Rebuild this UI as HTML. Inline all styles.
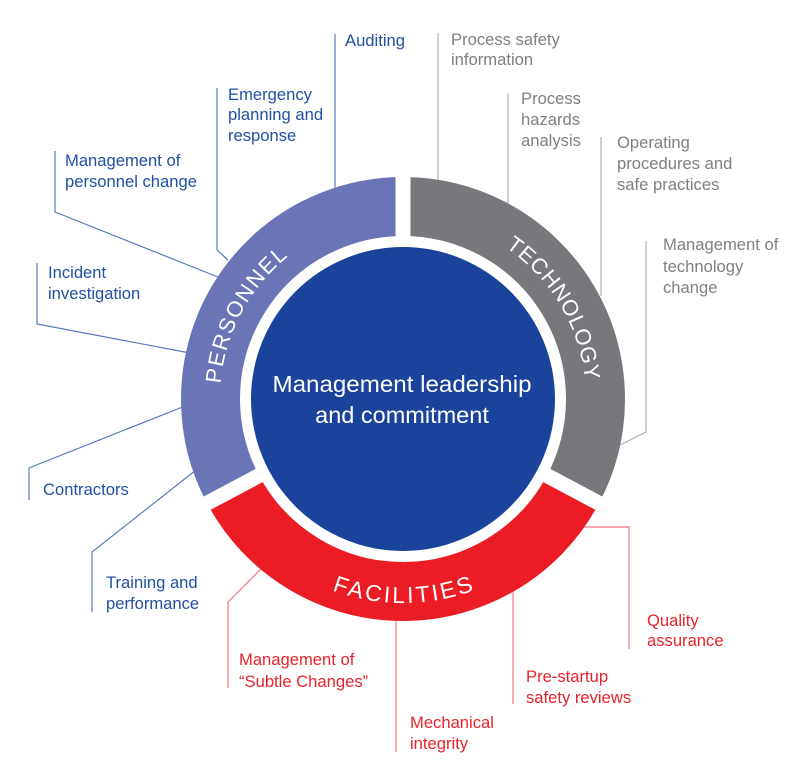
<!DOCTYPE html>
<html><head><meta charset="utf-8"><style>
html,body{margin:0;padding:0;background:#fff;}
svg{display:block;}
text{font-family:"Liberation Sans",sans-serif;}
.b{fill:#2150a3;font-size:16.6px;}
.g{fill:#7f7f7f;font-size:16.6px;}
.r{fill:#e8222c;font-size:16.6px;}
</style></head><body>
<svg width="808" height="784" viewBox="0 0 808 784" xmlns="http://www.w3.org/2000/svg">
<g fill="none" stroke-width="1.2">
<g stroke="#5a78c0">
<polyline points="335,34 335,190"/>
<polyline points="217,88 217,250 228,260"/>
<polyline points="55,151 55,212 218,277"/>
<polyline points="37,263 37,324 190,353"/>
<polyline points="185,406 29,468 29,500"/>
<polyline points="196,470 92,552 92,612"/>
</g>
<g stroke="#b0b0b0">
<polyline points="438,33 438,182"/>
<polyline points="508,93 508,205"/>
<polyline points="601,137 601,296"/>
<polyline points="646,241 646,432 618,446"/>
</g>
<g stroke="#f0747a">
<polyline points="262,568 228,602 228,688"/>
<polyline points="396,615 396,752"/>
<polyline points="513,590 513,704"/>
<polyline points="584,527 629,527 629,649"/>
</g>
</g>
<g fill="none" stroke-width="59">
<path d="M233,489.3 A192.5,192.5 0 0 1 403,206.5" stroke="#6b74b7"/>
<path d="M403,206.5 A192.5,192.5 0 0 1 573,489.3" stroke="#77787b"/>
<path d="M573,489.3 A192.5,192.5 0 0 1 233,489.3" stroke="#ec1c24"/>
</g>
<g stroke="#fff" stroke-width="15">
<line x1="403" y1="399" x2="403" y2="150"/>
<line x1="403" y1="399" x2="623" y2="516"/>
<line x1="403" y1="399" x2="183" y2="516"/>
</g>
<circle cx="403" cy="399" r="162" fill="#fff"/>
<circle cx="403" cy="399" r="152" fill="#1a449b"/>
<defs>
<path id="pP" d="M244.5,490.5 A183,183 0 0 1 403,216"/>
<path id="pT" d="M403,216 A183,183 0 0 1 561.5,490.5"/>
<path id="pF" d="M226.3,501 A204,204 0 0 0 579.7,501"/>
</defs>
<text fill="#fff" font-size="22" text-anchor="middle"><textPath href="#pP" startOffset="48.3%" textLength="148" lengthAdjust="spacing">PERSONNEL</textPath></text>
<text fill="#fff" font-size="22" text-anchor="middle"><textPath href="#pT" startOffset="49.2%" textLength="160" lengthAdjust="spacing">TECHNOLOGY</textPath></text>
<text fill="#fff" font-size="23" text-anchor="middle"><textPath href="#pF" startOffset="50%" textLength="145" lengthAdjust="spacing">FACILITIES</textPath></text>
<text fill="#fff" font-size="23.5" text-anchor="middle" x="402" y="392" textLength="259" lengthAdjust="spacingAndGlyphs">Management leadership</text>
<text fill="#fff" font-size="23.5" text-anchor="middle" x="402" y="423">and commitment</text>

<text class="b" x="345" y="46">Auditing</text>
<text class="b" x="228" y="100">Emergency</text>
<text class="b" x="228" y="120">planning and</text>
<text class="b" x="228" y="141">response</text>
<text class="b" x="65" y="166">Management of</text>
<text class="b" x="65" y="187">personnel change</text>
<text class="b" x="48" y="278">Incident</text>
<text class="b" x="48" y="299">investigation</text>
<text class="b" x="43" y="495">Contractors</text>
<text class="b" x="106" y="588">Training and</text>
<text class="b" x="106" y="609">performance</text>

<text class="g" x="451" y="45">Process safety</text>
<text class="g" x="451" y="65">information</text>
<text class="g" x="521" y="104">Process</text>
<text class="g" x="521" y="125">hazards</text>
<text class="g" x="521" y="146">analysis</text>
<text class="g" x="617" y="148">Operating</text>
<text class="g" x="617" y="169">procedures and</text>
<text class="g" x="617" y="190">safe practices</text>
<text class="g" x="663" y="250">Management of</text>
<text class="g" x="663" y="272">technology</text>
<text class="g" x="663" y="293">change</text>

<text class="r" x="239" y="665">Management of</text>
<text class="r" x="239" y="687">“Subtle Changes”</text>
<text class="r" x="410" y="728">Mechanical</text>
<text class="r" x="410" y="749">integrity</text>
<text class="r" x="526" y="682">Pre-startup</text>
<text class="r" x="526" y="703">safety reviews</text>
<text class="r" x="647" y="626">Quality</text>
<text class="r" x="647" y="646">assurance</text>
</svg>
</body></html>
